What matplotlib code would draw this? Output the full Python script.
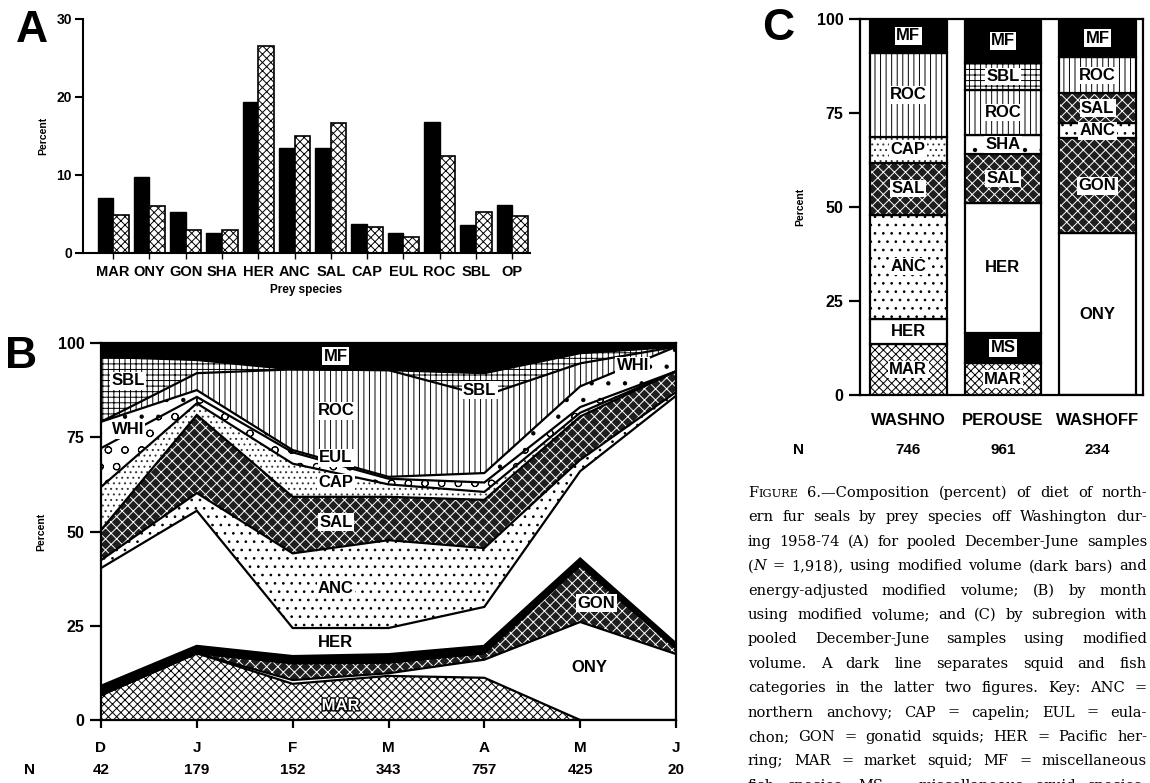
import numpy as np
import matplotlib
matplotlib.use("Agg")
import matplotlib.pyplot as plt
import matplotlib.patheffects as pe

plt.rcParams["hatch.linewidth"] = 0.7
SANS   = ["Liberation Sans", "DejaVu Sans"]
NARROW = ["Liberation Sans Narrow", "Liberation Sans", "DejaVu Sans"]
SERIF  = ["DejaVu Serif"]

W, H = 1150, 783

# ---- panel A: pooled Dec-June, modified volume vs energy-adjusted
prey_a   = ["MAR", "ONY", "GON", "SHA", "HER", "ANC", "SAL", "CAP", "EUL", "ROC", "SBL", "OP"]
vol_a    = [7.0, 9.7, 5.3, 2.6, 19.4, 13.4, 13.4, 3.7, 2.6, 16.8, 3.6, 6.1]
energy_a = [4.9, 6.0, 3.0, 3.0, 26.5, 15.0, 16.7, 3.3, 2.0, 12.4, 5.2, 4.8]

# ---- panel B: by month (layer shares, bottom to top)
months  = ["D", "J", "F", "M", "A", "M", "J"]
n_month = [42, 179, 152, 343, 757, 425, 20]
b_names = ["MAR", "ONY", "GON", "MS", "HER", "ANC", "SAL", "CAP", "EUL", "WHI", "ROC", "SBL", "MF"]
b_mar = [6.6, 17.7, 9.6, 11.7, 11.2, 0.0, 0.0]
b_ony = [0.0, 0.0, 1.0, 0.7, 4.8, 26.0, 17.5]
b_gon = [0.0, 0.0, 4.4, 2.8, 1.7, 15.0, 1.5]
b_ms  = [2.2, 1.7, 1.7, 2.0, 1.7, 1.5, 1.0]
b_her = [31.5, 36.1, 7.7, 7.2, 10.6, 23.5, 66.0]
b_anc = [2.1, 4.7, 19.8, 23.3, 15.6, 3.0, 1.0]
b_sal = [8.0, 20.7, 15.0, 11.5, 12.8, 11.5, 5.5]
b_cap = [11.4, 3.1, 8.8, 3.3, 2.1, 1.0, 0.0]
b_eul = [10.3, 1.7, 3.0, 1.5, 2.5, 1.5, 0.0]
b_whi = [7.0, 1.8, 0.6, 0.5, 2.5, 5.5, 6.5]
b_roc = [0.0, 4.5, 21.4, 28.3, 20.5, 6.1, 0.0]
b_sbl = [17.2, 3.5, 0.0, 0.0, 6.0, 2.7, 0.0]
b_mf  = [3.7, 4.5, 7.0, 7.2, 8.0, 2.7, 1.0]
b_vals = [b_mar, b_ony, b_gon, b_ms, b_her, b_anc, b_sal, b_cap, b_eul, b_whi, b_roc, b_sbl, b_mf]

# ---- panel C: by subregion (bottom to top)
regions  = ["WASHNO", "PEROUSE", "WASHOFF"]
n_region = [746, 961, 234]
c_washno_names  = ["MAR", "HER", "ANC", "SAL", "CAP", "ROC", "MF"]
c_washno        = [13.5, 6.8, 27.7, 13.8, 6.9, 22.3, 9.0]
c_perouse_names = ["MAR", "MS", "HER", "SAL", "SHA", "ROC", "SBL", "MF"]
c_perouse       = [8.5, 8.1, 34.4, 13.1, 5.0, 12.0, 7.3, 11.6]
c_washoff_names = ["ONY", "GON", "ANC", "SAL", "ROC", "MF"]
c_washoff       = [43.0, 25.3, 4.0, 7.9, 9.6, 10.2]

caption = [
    "FIGURE 6.\u2014Composition (percent) of diet of north-",
    "ern fur seals by prey species off Washington dur-",
    "ing 1958-74 (A) for pooled December-June samples",
    "(N = 1,918), using modified volume (dark bars) and",
    "energy-adjusted modified volume; (B) by month",
    "using modified volume; and (C) by subregion with",
    "pooled December-June samples using modified",
    "volume. A dark line separates squid and fish",
    "categories in the latter two figures.  Key: ANC =",
    "northern anchovy; CAP = capelin; EUL = eula-",
    "chon; GON = gonatid squids; HER = Pacific her-",
    "ring; MAR = market squid; MF = miscellaneous",
    "fish species; MS = miscellaneous squid species;",
]

# fill styles: face colour, hatch, hatch colour
STYLE = {
    "MAR": ("white", "xxxx", "black"),
    "ONY": ("white", None, "black"),
    "GON": ("#1e1e1e", "xxx", "white"),
    "MS":  ("black", None, "black"),
    "HER": ("white", None, "black"),
    "ANC": ("white", "..", "black"),
    "SAL": ("#1e1e1e", "xxx", "white"),
    "CAP": ("white", "...", "#333333"),
    "EUL": ("white", "o", "black"),
    "WHI": ("white", ".", "black"),
    "ROC": ("white", "|||", "black"),
    "SBL": ("white", "+++", "black"),
    "SHA": ("white", ".", "black"),
    "MF":  ("black", None, "black"),
}

fig = plt.figure(figsize=(W / 100, H / 100), dpi=100)


def axes_px(left, top, right, bottom):
    return fig.add_axes([left / W, 1 - bottom / H, (right - left) / W, (bottom - top) / H])


def tag(ax, x, y, s, size=12, **kw):
    ax.text(x, y, s, ha="center", va="center", fontsize=size, fontweight="bold",
            family=SANS, bbox=dict(boxstyle="square,pad=0.08", fc="white", ec="none"), **kw)


# ================= A
axA = axes_px(83, 19, 530, 253)
xa = np.arange(len(prey_a))
axA.bar(xa - 0.43, vol_a, width=0.43, align="edge", color="black", edgecolor="black", lw=1)
axA.bar(xa, energy_a, width=0.43, align="edge", facecolor="white", edgecolor="black",
        hatch="xxxx", lw=1.2)
axA.set_xlim(-0.83, 11.49)
axA.set_ylim(0, 30)
for s in ("top", "right"):
    axA.spines[s].set_visible(False)
for s in ("left", "bottom"):
    axA.spines[s].set_linewidth(1.5)
axA.set_yticks([0, 10, 20, 30])
axA.set_xticks(xa)
axA.set_xticklabels(prey_a, fontsize=10.5, fontweight="bold", family=NARROW)
axA.set_yticklabels(["0", "10", "20", "30"], fontsize=10, fontweight="bold", family=NARROW)
axA.tick_params(axis="y", length=6, width=1.5, pad=2)
axA.tick_params(axis="x", length=4, width=1, pad=5)
axA.set_ylabel("Percent", fontsize=7.5, fontweight="bold", family=NARROW, labelpad=6)
axA.set_xlabel("Prey species", fontsize=8.5, fontweight="bold", family=NARROW, labelpad=3)
fig.text(32 / W, 1 - 31 / H, "A", fontsize=32, fontweight="bold", family=SANS,
         ha="center", va="center")

# ================= B
axB = axes_px(101, 343, 676, 720)
xb = np.arange(len(months))
tops = np.cumsum(np.array(b_vals), axis=0)
bots = np.vstack([np.zeros(len(months)), tops[:-1]])
for name, lo, hi in zip(b_names, bots, tops):
    fc, hatch, hc = STYLE[name]
    axB.fill_between(xb, lo, hi, facecolor=fc, hatch=hatch, edgecolor=hc, lw=0)
for name, hi in zip(b_names[:-1], tops[:-1]):
    axB.plot(xb, hi, color="black", lw=3.0 if name == "MS" else 1.6, solid_joinstyle="miter")
axB.set_xlim(0, 6)
axB.set_ylim(0, 100)
for s in axB.spines.values():
    s.set_linewidth(1.6)
axB.set_yticks([0, 25, 50, 75, 100])
axB.set_yticklabels(["0", "25", "50", "75", "100"], fontsize=11.5, fontweight="bold", family=SANS)
axB.set_xticks(xb)
axB.set_xticklabels(months, fontsize=11, fontweight="bold", family=SANS)
axB.tick_params(axis="y", length=8, width=1.6, pad=4)
axB.tick_params(axis="x", length=6, width=1.6, pad=9)
axB.set_ylabel("Percent", fontsize=7.5, fontweight="bold", family=NARROW, labelpad=8)
tr = axB.get_xaxis_transform()
axB.text(-0.75, -0.133, "N", transform=tr, ha="center", va="center", fontsize=11,
         fontweight="bold", family=SANS, clip_on=False)
for i, n in enumerate(n_month):
    axB.text(i, -0.133, str(n), transform=tr, ha="center", va="center", fontsize=11,
             fontweight="bold", family=SANS, clip_on=False)
b_tags = [("MF", 2.45, 96.5), ("SBL", 0.28, 90), ("SBL", 3.95, 87.5), ("ROC", 2.45, 82),
          ("WHI", 0.28, 77), ("WHI", 5.55, 94), ("EUL", 2.45, 69.5), ("CAP", 2.45, 63),
          ("SAL", 2.45, 52.5), ("ANC", 2.45, 35), ("HER", 2.45, 20.5), ("GON", 5.17, 31),
          ("ONY", 5.1, 14)]
for s, x, y in b_tags:
    tag(axB, x, y, s)
axB.text(2.5, 3.8, "MAR", ha="center", va="center", fontsize=12, fontweight="bold",
         family=SANS, color="white",
         path_effects=[pe.withStroke(linewidth=2, foreground="black")])
fig.text(21 / W, 1 - 356 / H, "B", fontsize=32, fontweight="bold", family=SANS,
         ha="center", va="center")

# ================= C
axC = axes_px(860, 19, 1143, 395)
bar_w = 0.81
for i, (names, vals) in enumerate([(c_washno_names, c_washno),
                                   (c_perouse_names, c_perouse),
                                   (c_washoff_names, c_washoff)]):
    bottom = 0.0
    for name, v in zip(names, vals):
        fc, hatch, hc = STYLE[name]
        axC.bar(i, v, bottom=bottom, width=bar_w, facecolor=fc, hatch=hatch,
                edgecolor=hc, lw=0)
        axC.bar(i, v, bottom=bottom, width=bar_w, fill=False, edgecolor="black", lw=1.6)
        tag(axC, i, bottom + v / 2, name)
        bottom += v
axC.set_xlim(-0.51, 2.48)
axC.set_ylim(0, 100)
for s in axC.spines.values():
    s.set_linewidth(1.6)
axC.set_yticks([0, 25, 50, 75, 100])
axC.set_yticklabels(["0", "25", "50", "75", "100"], fontsize=11.5, fontweight="bold", family=SANS)
axC.tick_params(axis="y", length=8, width=1.6, pad=4)
axC.set_xticks(range(3))
axC.set_xticklabels(regions, fontsize=12, fontweight="bold", family=SANS)
axC.tick_params(axis="x", length=0, pad=13)
axC.set_ylabel("Percent", fontsize=7.5, fontweight="bold", family=NARROW, labelpad=8)
trc = axC.get_xaxis_transform()
axC.text(-1.165, -0.146, "N", transform=trc, ha="center", va="center", fontsize=11,
         fontweight="bold", family=SANS, clip_on=False)
for i, n in enumerate(n_region):
    axC.text(i, -0.146, str(n), transform=trc, ha="center", va="center", fontsize=11,
             fontweight="bold", family=SANS, clip_on=False)
fig.text(778 / W, 1 - 28 / H, "C", fontsize=32, fontweight="bold", family=SANS,
         ha="center", va="center")

# ================= caption, justified
renderer = fig.canvas.get_renderer()
cap_size = 10.5
x0, x1 = 748, 1147
y0, dy = 497, 24.4


def pieces(word):
    if word == "FIGURE":
        return [("F", cap_size, "normal"), ("IGURE", cap_size * 0.78, "normal")]
    if word == "(N":
        return [("(", cap_size, "normal"), ("N", cap_size, "italic")]
    return [(word, cap_size, "normal")]


def width(txt, size, style):
    t = fig.text(0, 0, txt, fontsize=size, style=style, family=SERIF)
    w = t.get_window_extent(renderer).width
    t.remove()
    return w


for k, line in enumerate(caption):
    words = [pieces(w) for w in line.split()]
    widths = [[width(*p) for p in wd] for wd in words]
    total = sum(sum(w) for w in widths)
    gap = (x1 - x0 - total) / (len(words) - 1)
    x = x0
    y = y0 + k * dy
    for wd, ws in zip(words, widths):
        for (txt, size, style), w in zip(wd, ws):
            fig.text(x / W, 1 - y / H, txt, fontsize=size, style=style, family=SERIF,
                     ha="left", va="baseline")
            x += w
        x += gap

fig.savefig("out.png", dpi=100)
